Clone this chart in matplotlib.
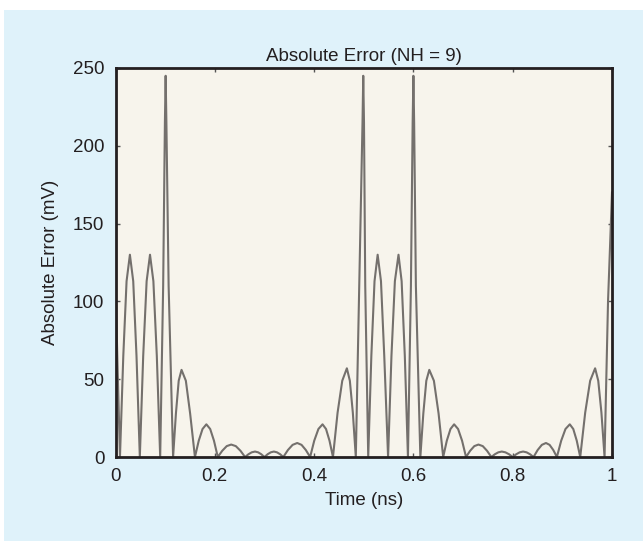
import matplotlib
matplotlib.use("Agg")
import matplotlib.pyplot as plt
from matplotlib.patches import Rectangle

# ---- data (time in ns, absolute error in mV) ----
time_ns = [
    0.000, 0.004, 0.009,
    0.0157, 0.0223, 0.029, 0.0357, 0.0423, 0.049,
    0.0558, 0.0627, 0.0695, 0.0763, 0.0832, 0.090,
    0.096, 0.0995, 0.101, 0.1025, 0.107, 0.116,
    0.1217, 0.1273, 0.133, 0.1417, 0.1503, 0.160,
    0.1677, 0.1753, 0.183, 0.1907, 0.1983, 0.206,
    0.215, 0.224, 0.233, 0.2423, 0.2517, 0.261,
    0.2677, 0.2743, 0.281, 0.2873, 0.2937, 0.300,
    0.3063, 0.3127, 0.319, 0.3253, 0.3317, 0.338,
    0.3473, 0.3567, 0.366, 0.3747, 0.3833, 0.392,
    0.4003, 0.4087, 0.417, 0.424, 0.431, 0.438,
    0.4473, 0.4567, 0.466, 0.472, 0.478, 0.484,
    0.491, 0.4975, 0.499, 0.5005, 0.503, 0.509,
    0.5153, 0.5217, 0.528, 0.5347, 0.5413, 0.549,
    0.5558, 0.5627, 0.570, 0.5763, 0.5827, 0.589,
    0.595, 0.5985, 0.600, 0.6015, 0.605, 0.614,
    0.620, 0.626, 0.632, 0.6413, 0.6507, 0.660,
    0.6673, 0.6747, 0.682, 0.690, 0.698, 0.706,
    0.7143, 0.7227, 0.731, 0.7397, 0.7483, 0.757,
    0.764, 0.771, 0.778, 0.7853, 0.7927, 0.800,
    0.807, 0.814, 0.821, 0.828, 0.835, 0.842,
    0.8503, 0.8587, 0.867, 0.8743, 0.8817, 0.889,
    0.8977, 0.9063, 0.915, 0.922, 0.929, 0.936,
    0.946, 0.956, 0.966, 0.9723, 0.9787, 0.985,
    0.992, 1.000,
]
abs_error_mv = [
    112, 60, 0,
    65, 113, 130, 113, 65, 0,
    65, 113, 130, 113, 65, 0,
    110, 215, 245, 215, 110, 0,
    28, 49, 56, 49, 28, 0,
    10.5, 18, 21, 18, 10.5, 0,
    4, 7, 8, 7, 4, 0,
    1.75, 3, 3.5, 3, 1.75, 0,
    1.75, 3, 3.5, 3, 1.75, 0,
    4.5, 7.8, 9, 7.8, 4.5, 0,
    10.5, 18, 21, 18, 10.5, 0,
    28.5, 49, 57, 49, 28.5, 0,
    110, 215, 245, 215, 110, 0,
    65, 113, 130, 113, 65, 0,
    65, 113, 130, 113, 65, 0,
    110, 215, 245, 215, 110, 0,
    28, 49, 56, 49, 28, 0,
    10.5, 18, 21, 18, 10.5, 0,
    4, 7, 8, 7, 4, 0,
    1.75, 3, 3.5, 3, 1.75, 0,
    1.75, 3, 3.5, 3, 1.75, 0,
    4.5, 7.8, 9, 7.8, 4.5, 0,
    10.5, 18, 21, 18, 10.5, 0,
    28.5, 49, 57, 49, 28.5, 0,
    100, 170,
]
x_ticks = [0, 0.2, 0.4, 0.6, 0.8, 1.0]
x_tick_labels = ["0", "0.2", "0.4", "0.6", "0.8", "1"]
y_ticks = [0, 50, 100, 150, 200, 250]
y_tick_labels = ["0", "50", "100", "150", "200", "250"]
title = "Absolute Error (NH = 9)"
x_label = "Time (ns)"
y_label = "Absolute Error (mV)"

# ---- styling ----
plt.rcParams["font.family"] = ["Liberation Sans", "DejaVu Sans"]
text_color = "#231f20"

fig = plt.figure(figsize=(6.43, 5.41), dpi=100, facecolor="white")
bg = Rectangle((4 / 643, 0), 1 - 4 / 643, 1 - 10 / 541,
               transform=fig.transFigure, facecolor="#dff2fa",
               edgecolor="none", zorder=-10)
fig.add_artist(bg)

ax = fig.add_axes([115.5 / 643, 1 - 457 / 541, (612 - 115.5) / 643, (457 - 68) / 541])
ax.set_zorder(5)
ax.set_facecolor("#f7f4ec")
ax.plot(time_ns, abs_error_mv, color="#74706d", linewidth=1.5,
        solid_joinstyle="round")

ax.set_xlim(0, 1)
ax.set_ylim(0, 250)
ax.set_xticks(x_ticks)
ax.set_xticklabels(x_tick_labels)
ax.set_yticks(y_ticks)
ax.set_yticklabels(y_tick_labels)
ax.tick_params(direction="in", length=3, width=1, top=True, right=True,
               labelsize=13.5, colors="#555555", labelcolor=text_color, pad=8)
for s in ax.spines.values():
    s.set_linewidth(2)
    s.set_color("#231f20")

ax.set_title(title, fontsize=13.5, color=text_color, pad=5)
ax.set_xlabel(x_label, fontsize=13.5, color=text_color, labelpad=5)
ax.set_ylabel(y_label, fontsize=13.5, color=text_color, labelpad=10)

fig.savefig("out.png", dpi=100, facecolor=fig.get_facecolor())
